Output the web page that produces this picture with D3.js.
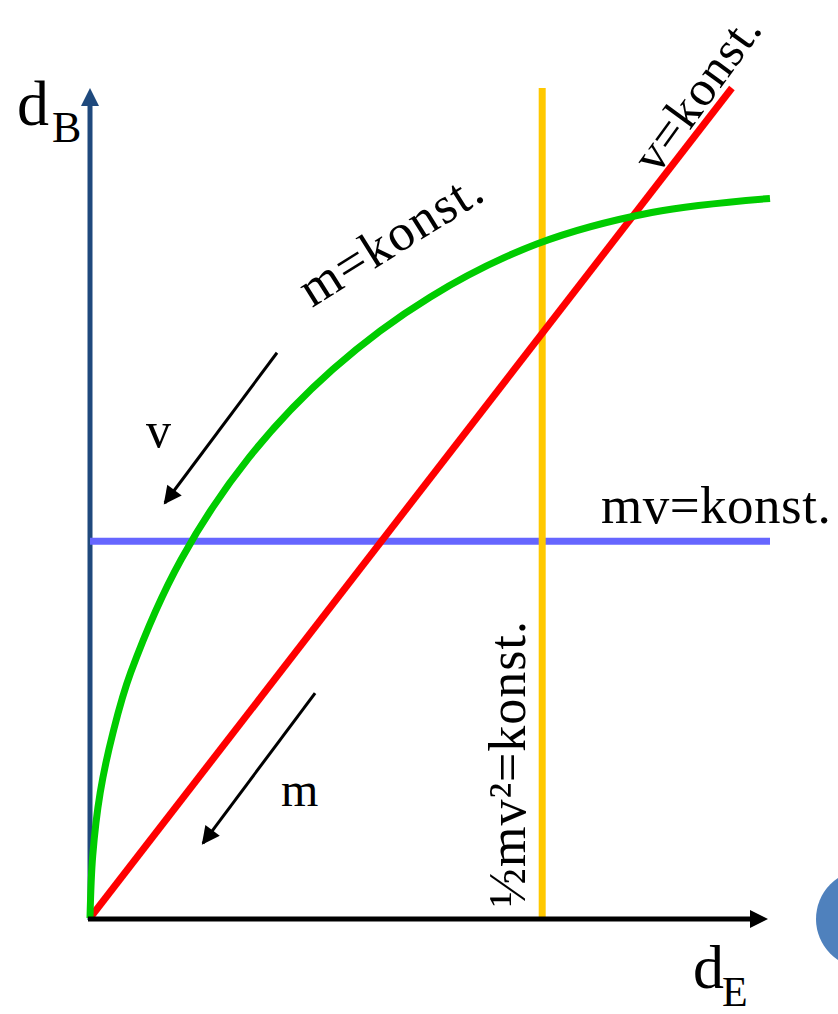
<!DOCTYPE html>
<html>
<head>
<meta charset="utf-8">
<script src="https://cdn.jsdelivr.net/npm/d3@7"></script>
<style>
  body { margin: 0; background: #fff; }
  svg text { font-family: "Liberation Serif", "Times New Roman", serif; fill: #000; }
</style>
</head>
<body>
<div id="chart"></div>
<script>
// curves (d_E, d_B in arbitrary units 0..100)
let mCurve = [[0, 0], [0.4, 7.5], [1.5, 15.1], [3.4, 22.4], [6.0, 29.6], [13.4, 43.2],
              [23.4, 55.5], [35.7, 66.1], [50.0, 74.8], [65.7, 81.2], [82.6, 85.0], [100, 86.7]];
let vLine = [[0, 0], [94.4, 100]];
let mvLine = [[0, 45.4], [100, 45.4]];
let energyLine = [[66.5, 0], [66.5, 100]];

// direction arrows [from, to]
let vArrow = [[27.5, 68.1], [11.0, 50.0]];
let mArrow = [[33.1, 27.1], [16.6, 9.0]];

let width = 838, height = 1014;

let svg = d3.select("#chart").append("svg")
    .attr("width", width)
    .attr("height", height);

let x = d3.scaleLinear().domain([0, 100]).range([90, 770]);
let y = d3.scaleLinear().domain([0, 100]).range([918, 88]);

let line = d3.line().x(d => x(d[0])).y(d => y(d[1]));

// arrow marker for the small black arrows
svg.append("defs").append("marker")
    .attr("id", "head")
    .attr("viewBox", "0 0 10 10")
    .attr("refX", 9).attr("refY", 5)
    .attr("markerWidth", 7).attr("markerHeight", 6)
    .attr("markerUnits", "strokeWidth")
    .attr("orient", "auto")
    .append("path")
    .attr("d", "M0,0 L10,5 L0,10 Z")
    .attr("fill", "#000");

// decorative circle on the right edge
svg.append("circle")
    .attr("cx", 865).attr("cy", 919).attr("r", 49)
    .attr("fill", "#4f81bd");

// y axis
svg.append("line")
    .attr("x1", x(0)).attr("x2", x(0))
    .attr("y1", y(0) + 2).attr("y2", y(100) + 16)
    .attr("stroke", "#1f497d").attr("stroke-width", 5);
svg.append("path")
    .attr("d", `M${x(0)},${y(100)} L${x(0) - 9},${y(100) + 18} L${x(0) + 9},${y(100) + 18} Z`)
    .attr("fill", "#1f497d");

// lines
svg.append("path").datum(mvLine)
    .attr("d", line).attr("fill", "none")
    .attr("stroke", "#6666ff").attr("stroke-width", 7);

svg.append("path").datum(energyLine)
    .attr("d", line).attr("fill", "none")
    .attr("stroke", "#ffc800").attr("stroke-width", 7);

svg.append("path").datum(vLine)
    .attr("d", line).attr("fill", "none")
    .attr("stroke", "#ff0000").attr("stroke-width", 7);

svg.append("path").datum(mCurve)
    .attr("d", line.curve(d3.curveCatmullRom)).attr("fill", "none")
    .attr("stroke", "#00cc00").attr("stroke-width", 7);
line.curve(d3.curveLinear);

// x axis
svg.append("line")
    .attr("x1", x(0) - 2).attr("x2", 752)
    .attr("y1", y(0) + 1).attr("y2", y(0) + 1)
    .attr("stroke", "#000").attr("stroke-width", 5);
svg.append("path")
    .attr("d", `M768,${y(0) + 1} L750,${y(0) - 8} L750,${y(0) + 10} Z`)
    .attr("fill", "#000");

// small arrows
[vArrow, mArrow].forEach(a => {
    svg.append("path").datum(a)
        .attr("d", line).attr("fill", "none")
        .attr("stroke", "#000").attr("stroke-width", 3)
        .attr("marker-end", "url(#head)");
});

// axis labels
svg.append("text").attr("x", 17).attr("y", 125).attr("font-size", 64).text("d");
svg.append("text").attr("x", 52).attr("y", 142).attr("font-size", 44).text("B");
svg.append("text").attr("x", 693).attr("y", 988).attr("font-size", 62).text("d");
svg.append("text").attr("x", 722).attr("y", 1006).attr("font-size", 42).text("E");

// line labels (reference font is a bit wider, so add some spacing)
svg.append("text").attr("font-size", 52).attr("letter-spacing", 1.5)
    .attr("transform", "translate(312,308) rotate(-32)").text("m=konst.");
svg.append("text").attr("font-size", 50).attr("letter-spacing", 1)
    .attr("transform", "translate(657,176) rotate(-54)").text("v=konst.");
svg.append("text").attr("font-size", 53).attr("letter-spacing", 0.5)
    .attr("x", 601).attr("y", 523).text("mv=konst.");
svg.append("text").attr("font-size", 52).attr("letter-spacing", 1)
    .attr("transform", "translate(525,907) rotate(-90)").text("½mv²=konst.");
svg.append("text").attr("font-size", 50).attr("x", 146).attr("y", 447).text("v");
svg.append("text").attr("font-size", 48).attr("x", 281).attr("y", 806).text("m");
</script>
</body>
</html>
